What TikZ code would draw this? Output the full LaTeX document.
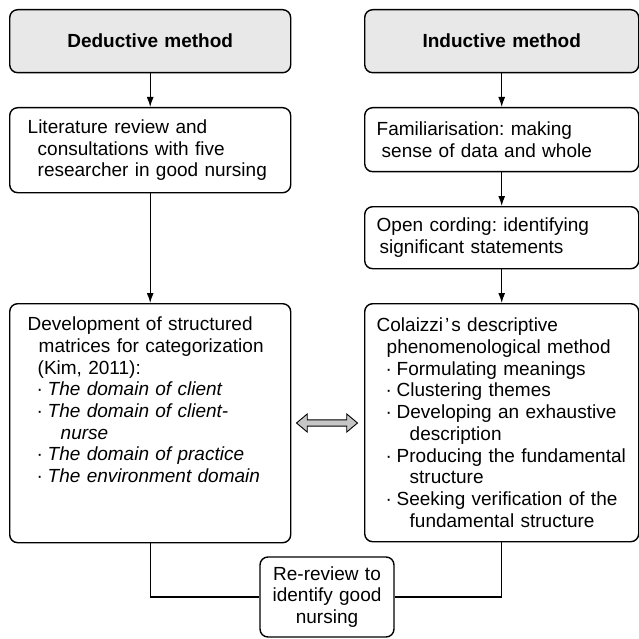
\documentclass[tikz,border=0pt]{standalone}
\usepackage{fontspec}
\setmainfont{Liberation Sans}
\usetikzlibrary{arrows.meta, shapes.arrows}
\frenchspacing

\newcommand{\boxfont}{\fontsize{19}{21.7}\selectfont}
\newcommand{\indt}[1]{\hspace*{#1pt}}
\newcommand{\bul}{\hspace*{9pt}\makebox[11pt][l]{·}}

\tikzset{
	box/.style={draw, rounded corners=8pt, line width=1.4pt, anchor=north west, align=left, font=\boxfont},
	leftbox/.style={box, text width=245pt, inner xsep=18pt},
	rightbox/.style={box, text width=250pt, inner xsep=12pt},
	headbox/.style={fill=gray!18, align=center, font=\boxfont\bfseries},
	dblarrow/.style={double arrow, draw, fill=gray!45, line width=0.9pt, inner xsep=0pt, inner ysep=2.7pt,
		minimum height=61pt, double arrow head extend=5.9pt, double arrow tip angle=80}
}

\begin{document}
\begin{tikzpicture}[x=1pt, y=-1pt, line width=1.2pt, >={Latex[length=10pt, width=7pt]}]
	\useasboundingbox (0, 0) rectangle (639, 639);

	\node[leftbox, headbox, minimum height=63pt] (deductive) at (9, 9) {Deductive method};
	\node[leftbox, minimum height=85pt] (literature) at (9, 107)
		{Literature review and\\ \indt{10}consultations with five\\ \indt{10}researcher in good nursing};
	\node[leftbox, text height=14pt, text depth=199pt, inner ysep=13pt] (matrices) at (9, 303)
		{Development of structured\\ \indt{11}matrices for categorization\\ \indt{10}(Kim, 2011):\\
		\bul\textit{The domain of client}\\ \bul\textit{The domain of client-}\\ \indt{33}\textit{nurse}\\
		\bul\textit{The domain of practice}\\ \bul\textit{The environment domain}};

	\node[rightbox, headbox, minimum height=63pt] (inductive) at (364, 9) {Inductive method};
	\node[rightbox, minimum height=64pt] (familiar) at (364, 107)
		{Familiarisation: making\\ \indt{5}sense of data and whole};
	\node[rightbox, minimum height=62pt] (cording) at (364, 206)
		{Open cording: identifying\\ \indt{3}significant statements};
	\node[rightbox, minimum height=238pt] (colaizzi) at (364, 303)
		{Colaizzi\kern2pt’\kern2pt s descriptive\\ \indt{10}phenomenological method\\
		\bul Formulating meanings\\ \bul Clustering themes\\ \bul Developing an exhaustive\\ \indt{33}description\\
		\bul Producing the fundamental\\ \indt{33}structure\\ \bul Seeking verification of the\\ \indt{33}fundamental structure};

	\node[draw, rounded corners=8pt, line width=1.4pt, align=center, font=\boxfont,
		text width=120pt, inner xsep=7pt, minimum height=80pt] (rereview) at (327, 597)
		{Re-review to\\ identify good\\ nursing};

	\node[dblarrow] (link) at (327, 423) {};

	\draw[->] (deductive) -- (literature);
	\draw[->] (literature) -- (matrices);
	\draw[->] (inductive) -- (familiar);
	\draw[->] (familiar) -- (cording);
	\draw[->] (cording) -- (colaizzi);
	\draw (matrices) |- (rereview);
	\draw (colaizzi) |- (rereview);
\end{tikzpicture}
\end{document}
